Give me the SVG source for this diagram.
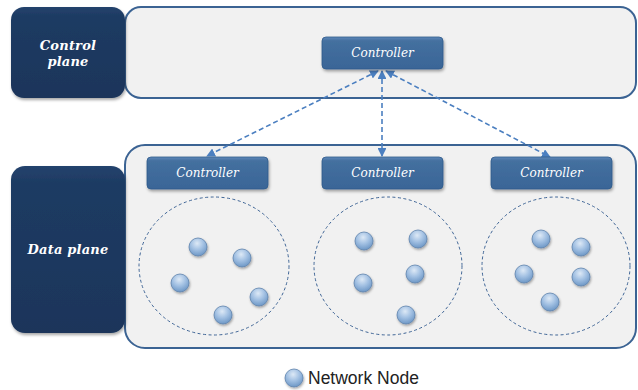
<svg xmlns="http://www.w3.org/2000/svg" width="638" height="390" viewBox="0 0 638 390">
<defs>
<style>
.lbl{fill:url(#navy);filter:url(#sh)}
.lbltxt{font-family:'DejaVu Serif',serif;font-weight:700;font-style:italic;font-size:13px;fill:#ffffff;text-anchor:middle;letter-spacing:0.2px}
.panel{fill:#f1f1f1;stroke:#3b6393;stroke-width:2}
.ctrl{fill:url(#blue);stroke:#2f5a8c;stroke-width:0.8;filter:url(#sh)}
.ctxt{font-family:'DejaVu Serif',serif;font-style:italic;font-size:12px;fill:#ffffff;text-anchor:middle}
.zone{fill:none;stroke:#3f6596;stroke-width:1;stroke-dasharray:3,2.5}
.node{fill:url(#ball);stroke:#5f84ad;stroke-width:0.8;filter:url(#sh2)}
.link{fill:none;stroke:#4b7fc0;stroke-width:1.6;stroke-dasharray:5,3;marker-end:url(#ah);marker-start:url(#ah)}
</style>
<linearGradient id="navy" x1="0" y1="0" x2="0" y2="1">
<stop offset="0" stop-color="#24436d"/>
<stop offset="0.1" stop-color="#1e3b63"/>
<stop offset="1" stop-color="#1b355a"/>
</linearGradient>
<linearGradient id="blue" x1="0" y1="0" x2="0" y2="1">
<stop offset="0" stop-color="#6088ba"/>
<stop offset="0.12" stop-color="#44709f"/>
<stop offset="1" stop-color="#3a6597"/>
</linearGradient>
<radialGradient id="ball" cx="0.45" cy="0.3" r="0.7">
<stop offset="0" stop-color="#dde9f6"/>
<stop offset="0.5" stop-color="#a3c1e3"/>
<stop offset="1" stop-color="#6d97c6"/>
</radialGradient>
<filter id="sh" x="-10%" y="-10%" width="125%" height="130%">
<feDropShadow dx="1" dy="2" stdDeviation="1.5" flood-color="#000" flood-opacity="0.35"/>
</filter>
<filter id="sh2" x="-30%" y="-30%" width="170%" height="170%">
<feDropShadow dx="0.8" dy="1.5" stdDeviation="1" flood-color="#000" flood-opacity="0.35"/>
</filter>
<marker id="ah" viewBox="0 0 10 10" refX="9" refY="5" markerWidth="5.5" markerHeight="5.5" orient="auto-start-reverse" markerUnits="strokeWidth">
<path d="M0,0 L10,5 L0,10 z" fill="#4b7fc0"/>
</marker>
</defs>

<g id="control-plane-panel"><rect class="panel" x="125" y="7" width="511" height="91" rx="16"/></g>
<g id="data-plane-panel"><rect class="panel" x="125" y="145" width="511" height="203" rx="20"/></g>

<g id="control-plane-label">
<rect class="lbl" x="11" y="7" width="114" height="91" rx="13"/>
<text class="lbltxt" x="68" y="50">Control</text>
<text class="lbltxt" x="68" y="66">plane</text>
</g>
<g id="data-plane-label">
<rect class="lbl" x="11" y="166" width="114" height="167" rx="14"/>
<text class="lbltxt" x="68" y="254">Data plane</text>
</g>

<g id="connectors">
<path class="link" d="M378,71 L207,156"/>
<path class="link" d="M382,71 L382,156"/>
<path class="link" d="M386,71 L550,157"/>
</g>

<g id="controller-top"><rect class="ctrl" x="322" y="37" width="121" height="32" rx="4"/><text class="ctxt" x="382.5" y="57">Controller</text></g>
<g id="controller-left"><rect class="ctrl" x="147" y="157" width="121" height="32" rx="4"/><text class="ctxt" x="207.5" y="177">Controller</text></g>
<g id="controller-mid"><rect class="ctrl" x="322" y="157" width="121" height="32" rx="4"/><text class="ctxt" x="382.5" y="177">Controller</text></g>
<g id="controller-right"><rect class="ctrl" x="491" y="157" width="121" height="32" rx="4"/><text class="ctxt" x="551.5" y="177">Controller</text></g>

<g id="domain-left">
<ellipse class="zone" cx="214" cy="266" rx="75" ry="69"/>
<circle class="node" cx="198" cy="247" r="9"/>
<circle class="node" cx="242" cy="258" r="9"/>
<circle class="node" cx="180" cy="283" r="9"/>
<circle class="node" cx="259" cy="297" r="9"/>
<circle class="node" cx="223" cy="315" r="9"/>
</g>
<g id="domain-mid">
<ellipse class="zone" cx="388" cy="266" rx="74" ry="69"/>
<circle class="node" cx="364" cy="241" r="9"/>
<circle class="node" cx="418" cy="239" r="9"/>
<circle class="node" cx="415" cy="274" r="9"/>
<circle class="node" cx="363" cy="283" r="9"/>
<circle class="node" cx="406" cy="315" r="9"/>
</g>
<g id="domain-right">
<ellipse class="zone" cx="556" cy="266" rx="74" ry="69"/>
<circle class="node" cx="541" cy="239" r="9"/>
<circle class="node" cx="581" cy="247" r="9"/>
<circle class="node" cx="524" cy="274" r="9"/>
<circle class="node" cx="581" cy="277" r="9"/>
<circle class="node" cx="550" cy="302" r="9"/>
</g>

<g id="legend">
<circle class="node" cx="294" cy="378" r="9"/>
<text x="308" y="384" font-family="'Liberation Sans', Arial, sans-serif" font-size="17.5px" fill="#222">Network Node</text>
</g>
</svg>
